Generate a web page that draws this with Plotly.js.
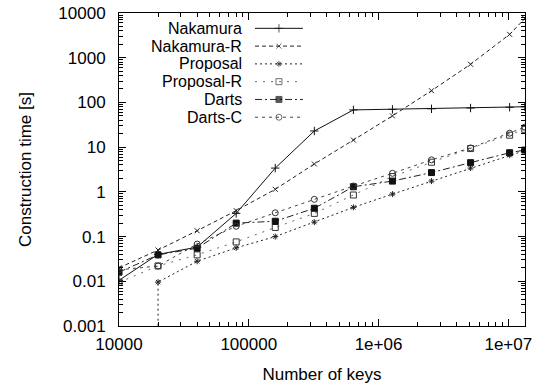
<!DOCTYPE html>
<html>
<head>
<meta charset="utf-8">
<script src="https://cdn.plot.ly/plotly-3.0.1.min.js"></script>
<style>html,body{margin:0;padding:0;background:#fff}#chart{width:543px;height:387px}</style>
</head>
<body>
<div id="chart"></div>
<script>
// ---- data ----
const keys = [10000, 20000, 40000, 80000, 160000, 320000, 640000, 1280000, 2560000, 5120000, 10240000, 13400000];
const nakamura   = [0.0105, 0.040, 0.058, 0.33, 3.4, 23, 68, 70, 72, 75, 78, 80];
const nakamuraR  = [0.020, 0.050, 0.135, 0.38, 1.14, 4.2, 14.4, 50, 183, 713, 3330, 7500];
// Proposal: first run (10000 keys) took ~0 s; the curve drops off the axis at 20000
const proposalKeys = [20000, 20000, 40000, 80000, 160000, 320000, 640000, 1280000, 2560000, 5120000, 10240000, 13400000];
const proposal   = [0.0001, 0.0096, 0.028, 0.056, 0.10, 0.21, 0.45, 0.89, 1.74, 3.4, 6.6, 8.4];
const proposalR  = [0.0095, 0.022, 0.039, 0.076, 0.16, 0.33, 0.85, 2.2, 4.6, 9.3, 18.5, 25];
const darts      = [0.016, 0.039, 0.055, 0.20, 0.22, 0.43, 1.3, 1.74, 2.7, 4.5, 7.5, 8.6];
const dartsC     = [0.018, 0.022, 0.068, 0.17, 0.34, 0.68, 1.35, 2.6, 5.2, 9.6, 20.5, 28];

const seriesNames = ["Nakamura", "Nakamura-R", "Proposal", "Proposal-R", "Darts", "Darts-C"];
const yTickVals = [0.001, 0.01, 0.1, 1, 10, 100, 1000, 10000];
const yTickText = ["0.001", "0.01", "0.1", "1", "10", "100", "1000", "10000"];
const xTickVals = [10000, 100000, 1000000, 10000000];
const xTickText = ["10000", "100000", "1e+06", "1e+07"];

// ---- styles ----
const styles = [
  {color: "#111", dash: "solid",          symbol: "cross-thin-open", size: 6, mcolor: "#111"},
  {color: "#222", dash: "4px,3px",        symbol: "x-thin-open",     size: 5, mcolor: "#222"},
  {color: "#222", dash: "2px,3px",        symbol: "asterisk-open",   size: 5, mcolor: "#222"},
  {color: "#666", dash: "2px,6px",        symbol: "square-open",     size: 6, mcolor: "#333"},
  {color: "#222", dash: "7px,3px,2px,3px",symbol: "square",          size: 6, mcolor: "#111"},
  {color: "#444", dash: "3px,4px",        symbol: "circle-open",     size: 6, mcolor: "#333"}
];
const xs = [keys, keys, proposalKeys, keys, keys, keys];
const ys = [nakamura, nakamuraR, proposal, proposalR, darts, dartsC];

const traces = [];
for (let i = 0; i < ys.length; i++) {
  const s = styles[i];
  traces.push({
    x: xs[i], y: ys[i], name: seriesNames[i], type: "scatter", mode: "lines+markers",
    line: {color: s.color, width: 1, dash: s.dash},
    marker: {symbol: s.symbol, size: s.size, color: s.mcolor, line: {color: s.mcolor, width: 1}},
    showlegend: false
  });
}

// ---- gnuplot-style key (text left of sample) ----
const keyX0 = 0.335, keyX1 = 0.453, keyTop = 0.951, keyStep = 0.0568, keyTextX = 0.305;
const annotations = [];
for (let i = 0; i < seriesNames.length; i++) {
  const s = styles[i];
  const yy = keyTop - i * keyStep;
  traces.push({
    x: [keyX0, (keyX0 + keyX1) / 2, keyX1], y: [yy, yy, yy],
    xaxis: "x2", yaxis: "y2", type: "scatter", mode: "lines+markers", hoverinfo: "skip",
    line: {color: s.color, width: 1, dash: s.dash},
    marker: {symbol: s.symbol, size: [0, s.size, 0], color: s.mcolor, line: {color: s.mcolor, width: [0, 1, 0]}},
    showlegend: false
  });
  annotations.push({
    xref: "paper", yref: "paper", x: keyTextX, y: yy, xanchor: "right", yanchor: "middle",
    text: seriesNames[i], showarrow: false, borderpad: 0,
    font: {family: "Liberation Sans, Arial, sans-serif", size: 16, color: "#000"}
  });
}

const font = {family: "Liberation Sans, Arial, sans-serif", size: 17, color: "#000"};
const layout = {
  width: 543, height: 387,
  margin: {l: 119, r: 18, t: 13, b: 61},
  paper_bgcolor: "#fff", plot_bgcolor: "#fff",
  font: font,
  showlegend: false,
  xaxis: {
    type: "log", range: [4, Math.log10(13450000)],
    tickmode: "array", tickvals: xTickVals, ticktext: xTickText,
    ticks: "inside", ticklen: 7, tickwidth: 1, tickcolor: "#000",
    minor: {ticks: "inside", ticklen: 4, dtick: "D1", tickcolor: "#000", showgrid: false},
    showline: true, linecolor: "#000", linewidth: 1, mirror: "ticks",
    showgrid: false, zeroline: false, ticklabelstandoff: 3,
    title: {text: "Number of keys", font: font, standoff: 14}
  },
  yaxis: {
    type: "log", range: [-3, 4],
    tickmode: "array", tickvals: yTickVals, ticktext: yTickText,
    ticks: "inside", ticklen: 7, tickwidth: 1, tickcolor: "#000",
    minor: {ticks: "inside", ticklen: 4, dtick: "D1", tickcolor: "#000", showgrid: false},
    showline: true, linecolor: "#000", linewidth: 1, mirror: "ticks",
    showgrid: false, zeroline: false, ticklabelstandoff: 9,
    title: {text: "Construction time [s]", font: font, standoff: 22}
  },
  xaxis2: {overlaying: "x", range: [0, 1], visible: false, fixedrange: true},
  yaxis2: {overlaying: "y", range: [0, 1], visible: false, fixedrange: true},
  annotations: annotations
};

Plotly.newPlot("chart", traces, layout, {staticPlot: true, displayModeBar: false});
</script>
</body>
</html>
